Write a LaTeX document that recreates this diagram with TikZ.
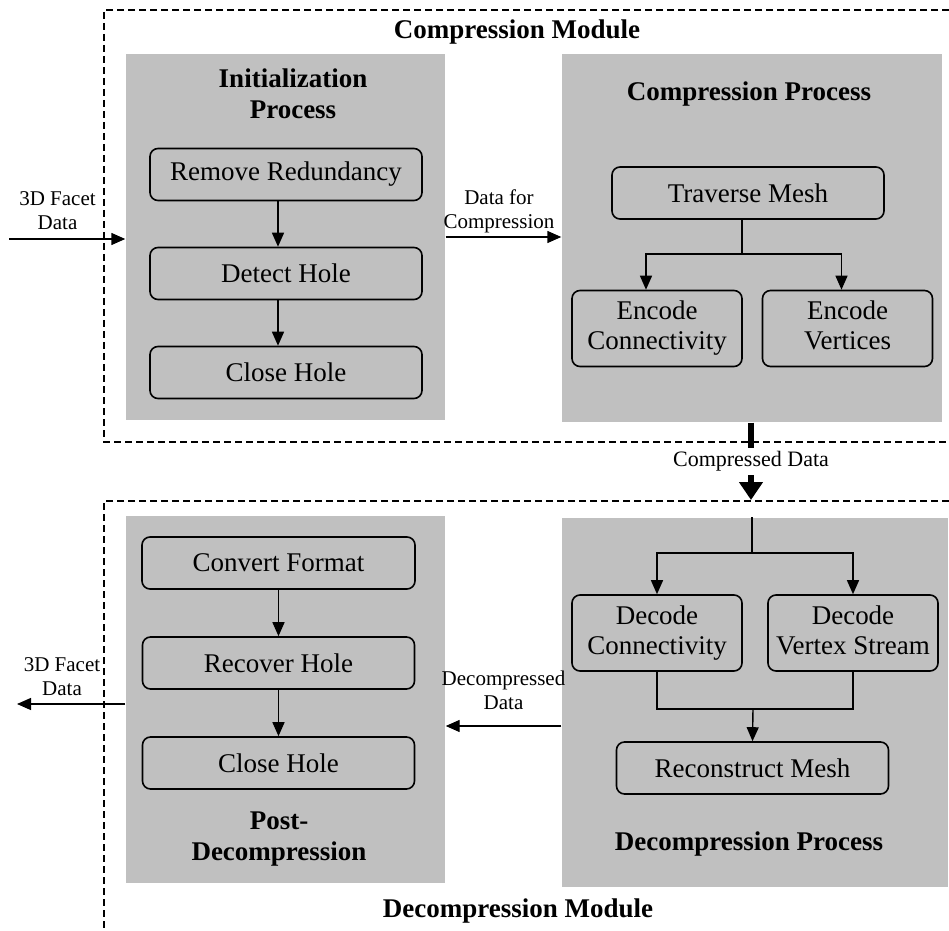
\documentclass[tikz,border=0pt]{standalone}
\usepackage{fontspec}
\setmainfont{Liberation Serif}
\usetikzlibrary{arrows.meta,positioning}
\definecolor{panelgray}{RGB}{192,192,192}
\tikzset{
    panel/.style={
           fill=panelgray,
           inner sep=0pt
           },
    stepbox/.style={
           draw=black, line width=0.8pt,
           rounded corners=4pt,
           minimum width=136pt,
           minimum height=26pt,
           align=center,
           font=\fontsize{13.5}{15}\selectfont
           },
    pairbox/.style={
           stepbox,
           text depth=3pt,
           minimum width=85pt,
           minimum height=38pt
           },
    title/.style={
           align=center,
           inner sep=0pt,
           font=\bfseries\fontsize{13.5}{15.5}\selectfont
           },
    flowlabel/.style={
           align=center,
           inner sep=1pt,
           font=\fontsize{10.5}{12}\selectfont
           },
    module/.style={
           dash pattern=on 3.5pt off 2pt,
           line width=0.7pt
           }
}

\begin{document}
\begin{tikzpicture}[x=0.5pt, y=-0.5pt, line width=0.7pt, >={Triangle[length=7pt,width=6pt]}, node distance=49.5pt, on grid]
   \useasboundingbox (0,0) rectangle (949,931);
   % module borders, open to the right
   \draw[module] (949,10) -- (104,10) -- (104,442) -- (949,442);
   \draw[module] (949,501) -- (104,501) -- (104,931);
   \node[title] (compmodule) at (517,32) {Compression Module};
   \node[title] (decompmodule) at (518,911) {Decompression Module};

   % grey panels
   \node[panel, minimum width=159.5pt, minimum height=183pt] (init) at (285.5,237) {};
   \node[panel, minimum width=190pt, minimum height=184pt] (comp) at (752,238) {};
   \node[panel, minimum width=159.5pt, minimum height=183.5pt] (post) at (285.5,699.5) {};
   \node[panel, minimum width=193pt, minimum height=184.5pt] (decomp) at (755,702.5) {};

   \node[title] (inittitle) at (293,94) {Initialization\\Process};
   \node[title] (comptitle) at (749,94) {Compression Process};
   \node[title] (posttitle) at (279,839) {Post-\\Decompression};
   \node[title] (decomptitle) at (749,844) {Decompression Process};

   % initialization
   \node[stepbox] (redundancy) at (286,174.5) {Remove Redundancy};
   \node[stepbox] (detect) [below=of redundancy] {Detect Hole};
   \node[stepbox] (close) [below=of detect] {Close Hole};
   \draw[->] ([xshift=-4pt]redundancy.south) -- ([xshift=-4pt]detect.north);
   \draw[->] ([xshift=-4pt]detect.south) -- ([xshift=-4pt]close.north);

   % compression
   \node[stepbox] (traverse) at (748,193) {Traverse Mesh};
   \node[pairbox] (encconn) at (657,328.5) {Encode\\Connectivity};
   \node[pairbox] (encvert) at (847.5,328.5) {Encode\\Vertices};
   \coordinate (split) at (742,254);
   \draw ([xshift=-3pt]traverse.south) -- (split);
   \draw[->] (split) -| ([xshift=-5.5pt]encconn.north);
   \draw[->] (split) -| ([xshift=-3pt]encvert.north);

   % decompression
   \node[pairbox] (decconn) at (657,633) {Decode\\Connectivity};
   \node[pairbox] (decvert) at (853,633) {Decode\\Vertex Stream};
   \node[stepbox] (reconstruct) at (752.5,768) {Reconstruct Mesh};
   \coordinate (branch) at (752,553);
   \coordinate (merge) at (753,709);
   \draw ([xshift=-1.5pt]decomp.north) -- (branch);
   \draw[->] (branch) -| (decconn.north);
   \draw[->] (branch) -| (decvert.north);
   \draw (decconn.south) |- (merge);
   \draw (decvert.south) |- (merge);
   \draw[->] (merge) -- (reconstruct.north);

   % post-decompression
   \node[stepbox, minimum width=136.5pt] (convert) at (278.5,563) {Convert Format};
   \node[stepbox] (recover) [below=50pt of convert] {Recover Hole};
   \node[stepbox] (reclose) [below=50pt of recover] {Close Hole};
   \draw[->] (convert) -- (recover);
   \draw[->] (recover) -- (reclose);

   % data flow between panels
   \coordinate (facetin) at (9,239);
   \coordinate (facetout) at (17,704);
   \coordinate (tip) at (751,500);
   \draw[->] (facetin) -- (facetin -| init.west);
   \node[flowlabel] (facetinlabel) at (57.5,211) {3D Facet\\Data};
   \draw[->] (init.east) -- (init.east -| comp.west);
   \node[flowlabel] (forcomp) at (499,211) {Data for\\Compression};
   \draw[line width=3pt, -{Triangle[length=9pt,width=11.5pt]}] ([xshift=-0.5pt]comp.south) -- node[fill=white, inner sep=0pt, minimum height=13.5pt, font=\fontsize{11}{13}\selectfont] (compressed) {Compressed Data} (tip);
   \draw[->] ([yshift=-11.75pt]decomp.west) -- ([yshift=-11.75pt]decomp.west -| post.east);
   \node[flowlabel] (decompressed) at (503.5,690) {Decompressed\\Data};
   \draw[->] (post.west |- facetout) -- (facetout);
   \node[flowlabel] (facetoutlabel) at (62,677) {3D Facet\\Data};
\end{tikzpicture}
\end{document}
